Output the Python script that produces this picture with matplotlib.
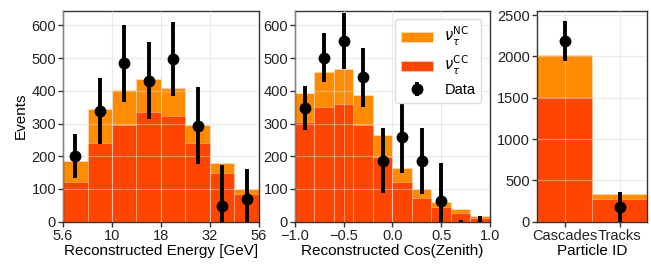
import numpy as np
import matplotlib.pyplot as plt

plt.rcParams['font.family'] = ['Liberation Sans', 'DejaVu Sans']

# reconstructed energy (log bins 5.6 - 56 GeV)
e_edges = 5.6 * 10 ** (np.arange(9) / 8.0)
e_nc_tot = [186, 344, 401, 437, 408, 296, 180, 99]
e_cc = [122, 242, 297, 335, 324, 242, 149, 84]
e_data = [201, 338, 484, 431, 497, 293, 47, 69]
e_err = [67, 100, 117, 118, 114, 118, 125, 91]

# reconstructed cos(zenith)
z_edges = np.linspace(-1, 1, 11)
z_nc_tot = [393, 456, 468, 387, 265, 164, 100, 60, 38, 18]
z_cc = [305, 350, 359, 296, 199, 122, 73, 46, 26, 12]
z_data = [347, 501, 553, 441, 187, 260, 186, 63, -60, -40]
z_err = [67, 75, 86, 91, 100, 112, 100, 117, 65, 57]

# particle id
pid_labels = ['Cascades', 'Tracks']
pid_nc_tot = [2017, 339]
pid_cc = [1512, 278]
pid_data = [2190, 174]
pid_err = [240, 180]

c_nc = '#ff8c00'
c_cc = '#ff4500'
edge = (1, 1, 1, 0.3)

fig = plt.figure(figsize=(6.51, 2.66), dpi=100)
ax1 = fig.add_axes([0.0968, 0.1665, 0.301, 0.7935])
ax2 = fig.add_axes([0.4531, 0.1665, 0.2995, 0.7935])
ax3 = fig.add_axes([0.8249, 0.1665, 0.1694, 0.7935])


def stack(ax, edges, tot, cc, data, err, centers):
    edges = np.asarray(edges)
    ax.bar(edges[:-1], tot, width=np.diff(edges), align='edge', color=c_nc,
           label=r'$\nu_\tau^{\rm NC}$', edgecolor=edge, linewidth=0.8)
    ax.bar(edges[:-1], cc, width=np.diff(edges), align='edge', color=c_cc,
           label=r'$\nu_\tau^{\rm CC}$', edgecolor=edge, linewidth=0.8)
    ax.errorbar(centers, data, yerr=err, fmt='o', color='black', ms=7.5,
                elinewidth=2.8, capsize=0, label='Data', zorder=4)


def style(ax):
    ax.grid(True, color='#d8d8d8', lw=0.8, alpha=0.5, zorder=3)
    ax.set_axisbelow(False)
    for s in ax.spines.values():
        s.set_color('#333333')
        s.set_linewidth(1.0)
    ax.tick_params(direction='out', length=3.5, width=1, color='#333333',
                   labelsize=10.5, labelcolor='#222222', pad=1.5)


ax = ax1
e_cent = np.sqrt(e_edges[:-1] * e_edges[1:])
stack(ax, e_edges, e_nc_tot, e_cc, e_data, e_err, e_cent)
ax.set_xscale('log')
ax.set_xlim(5.6, 56)
ax.set_xticks(e_edges[::2])
ax.set_xticklabels(['5.6', '10', '18', '32', '56'])
ax.minorticks_off()
ax.set_ylim(0, 645)
ax.set_yticks(range(0, 601, 100))
ax.set_xlabel('Reconstructed Energy [GeV]', fontsize=11, labelpad=1)
ax.set_ylabel('Events', fontsize=11, labelpad=3)
style(ax)

ax = ax2
z_cent = 0.5 * (z_edges[:-1] + z_edges[1:])
stack(ax, z_edges, z_nc_tot, z_cc, z_data, z_err, z_cent)
ax.set_xlim(-1, 1)
ax.set_ylim(0, 645)
ax.set_yticks(range(0, 601, 100))
ax.set_xticks([-1, -0.5, 0, 0.5, 1])
ax.set_xlabel('Reconstructed Cos(Zenith)', fontsize=11, labelpad=1)
style(ax)
ax.legend(loc='upper right', fontsize=10.5, framealpha=1, edgecolor='#dddddd',
          handlelength=2.2, borderpad=0.4, labelspacing=0.4, handletextpad=0.8,
          borderaxespad=0.6)

ax = ax3
x = np.arange(len(pid_labels))
ax.bar(x, pid_nc_tot, width=1.0, color=c_nc, edgecolor=edge, linewidth=0.8)
ax.bar(x, pid_cc, width=1.0, color=c_cc, edgecolor=edge, linewidth=0.8)
ax.errorbar(x, pid_data, yerr=pid_err, fmt='o', color='black', ms=7.5,
            elinewidth=2.8, capsize=0, zorder=4)
ax.set_xlim(-0.5, 1.5)
ax.set_ylim(0, 2555)
ax.set_yticks(range(0, 2501, 500))
ax.set_xticks(x)
ax.set_xticklabels(pid_labels)
ax.set_xlabel('Particle ID', fontsize=11, labelpad=1)
style(ax)

fig.savefig('out.png', dpi=100)
